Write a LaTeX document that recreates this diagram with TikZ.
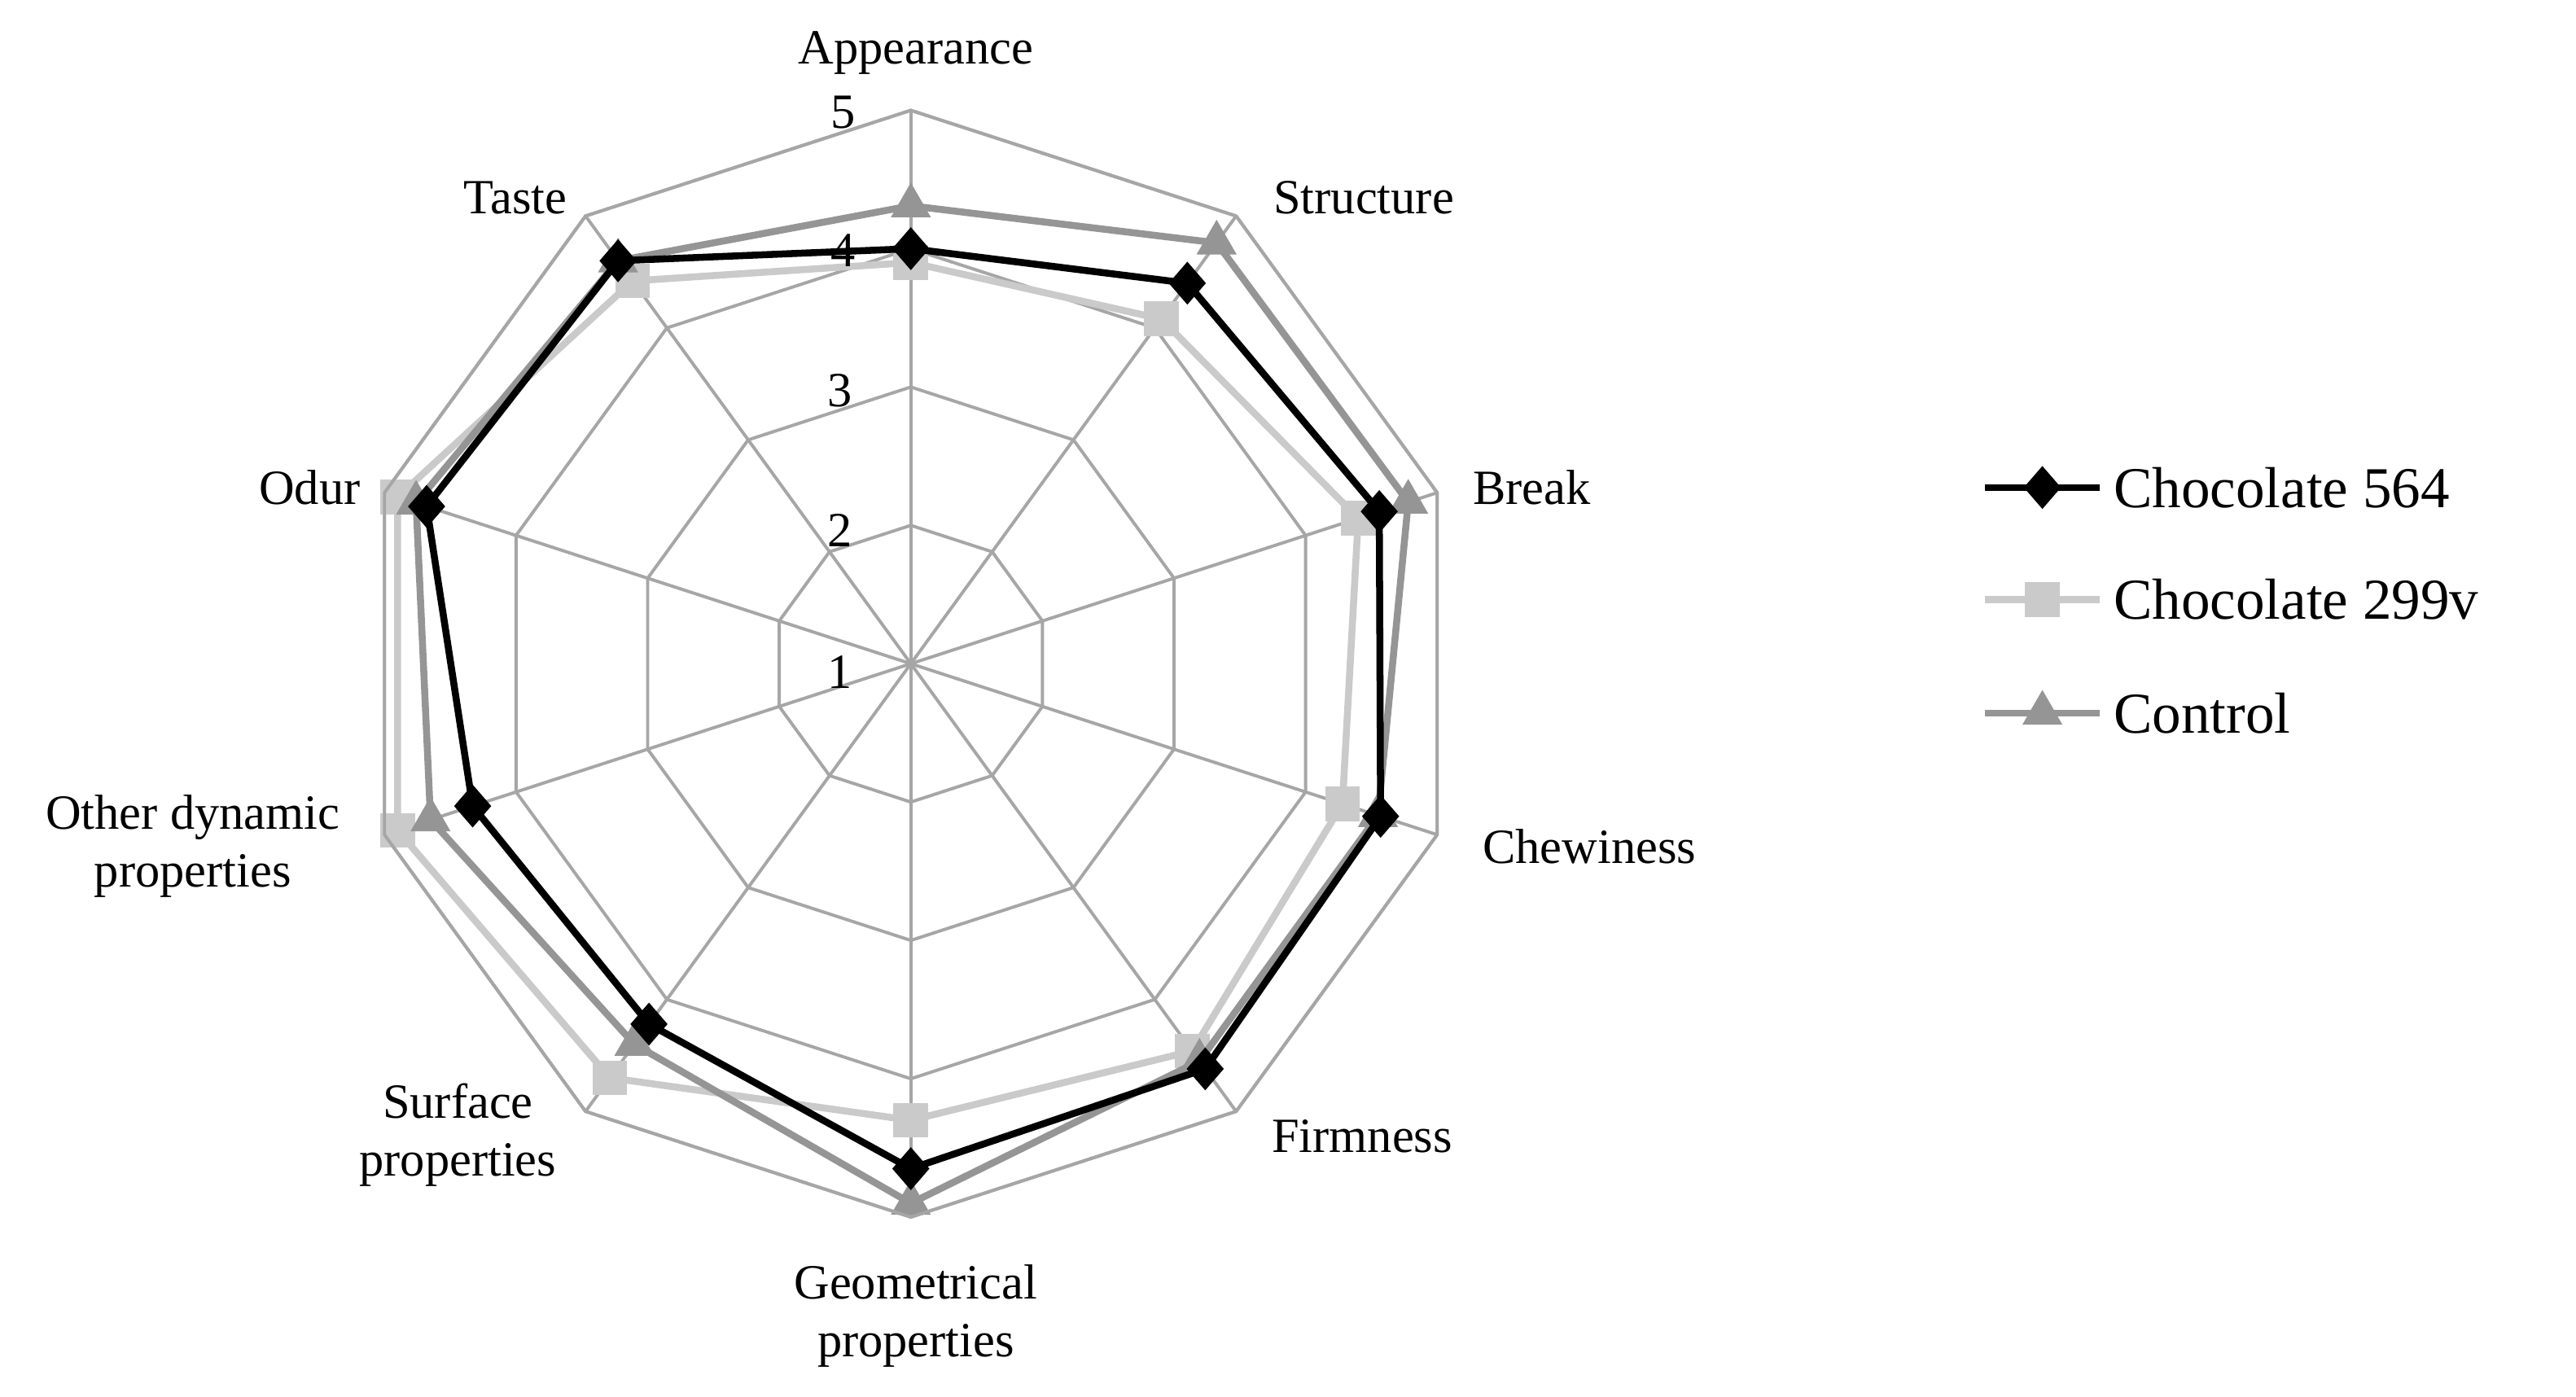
\documentclass[tikz,border=0pt]{standalone}
\usepackage{fontspec}
\setmainfont{Liberation Serif}
\usetikzlibrary{shapes.geometric,calc}
\definecolor{gridc}{HTML}{A6A6A6}
\definecolor{lightc}{HTML}{CACACA}
\definecolor{ctrlc}{HTML}{959595}
\begin{document}
\begin{tikzpicture}[x=0.02cm,y=0.02cm,
  grid/.style={draw=gridc,line width=1.1pt},
  lab/.style={font=\fontsize{17}{20}\selectfont,align=center,inner sep=0pt},
  tick/.style={font=\fontsize{17}{20}\selectfont,inner sep=0pt},
  leg/.style={font=\fontsize{20}{24}\selectfont,anchor=west,inner sep=0pt},
  ser/.style={line width=2.4pt,line join=round},
  dia/.style={diamond,fill=black,inner sep=0pt,minimum width=13pt,minimum height=15pt},
  sq/.style={rectangle,fill=lightc,inner sep=0pt,minimum size=12pt},
  tri/.style={regular polygon,regular polygon sides=3,fill=ctrlc,inner sep=0pt,minimum size=16pt}]
\useasboundingbox (0,0) rectangle (1564,848);
\coordinate (c) at (553,445);
\begin{scope}[shift={(c)}]
\foreach \v in {1,2,3,4} {
  \draw[grid] (90:\v*84) \foreach \k in {1,...,9}{ -- (90-\k*36:\v*84)} -- cycle;
}
\foreach \k in {0,...,9} \draw[grid] (0,0) -- (90-\k*36:336);
\def\plot#1#2#3#4{%
  \foreach \val [count=\i from 0] in {#1} \coordinate (#4\i) at (90-\i*36:{(\val-1)*84});
  \draw[ser,#2] (#40)--(#41)--(#42)--(#43)--(#44)--(#45)--(#46)--(#47)--(#48)--(#49)--cycle;
  \foreach \i in {0,...,9} \node[#3] at (#4\i) {};
}
\plot{3.9,4.08,4.4,4.28,4.46,4.3,4.7,4.9,4.9,4.42}{lightc}{sq}{s}
\plot{4.31,4.76,4.78,4.55,4.55,4.9,4.4,4.65,4.76,4.6}{ctrlc}{tri}{t}
\plot{4.0,4.4,4.56,4.57,4.62,4.65,4.22,4.33,4.68,4.6}{black}{dia}{d}
\draw[grid] (90:336) \foreach \k in {1,...,9}{ -- (90-\k*36:336)} -- cycle;
\end{scope}
\node[tick] (t5) at (512,780) {5};
\node[tick] (t4) at (512,696) {4};
\node[tick] (t3) at (510,611) {3};
\node[tick] (t2) at (510,526) {2};
\node[tick] (t1) at (510,440) {1};
\node[lab] (a1) at (556,816) {Appearance};
\node[lab] (a2) at (828,728) {Structure};
\node[lab] (a3) at (930,552) {Break};
\node[lab] (a4) at (965,334) {Chewiness};
\node[lab] (a5) at (827,158) {Firmness};
\node[lab] (a6) at (556,49) {Geometrical\\properties};
\node[lab] (a7) at (278,159) {Surface\\properties};
\node[lab] (a8) at (117,334) {Other dynamic\\properties};
\node[lab] (a9) at (188,552) {Odur};
\node[lab] (a10) at (313,728) {Taste};
\coordinate (l1a) at (1205,552); \coordinate (l1b) at (1275,552);
\coordinate (l2a) at (1205,484); \coordinate (l2b) at (1275,484);
\coordinate (l3a) at (1205,415); \coordinate (l3b) at (1275,415);
\draw[ser,black] (l1a) -- (l1b); \node[dia] at ($(l1a)!0.5!(l1b)$) {};
\draw[ser,lightc] (l2a) -- (l2b); \node[sq] at ($(l2a)!0.5!(l2b)$) {};
\draw[ser,ctrlc] (l3a) -- (l3b); \node[tri] at ($(l3a)!0.5!(l3b)$) {};
\node[leg] (g1) at (1283,552) {Chocolate 564};
\node[leg] (g2) at (1283,484) {Chocolate 299v};
\node[leg] (g3) at (1283,415) {Control};
\end{tikzpicture}
\end{document}
